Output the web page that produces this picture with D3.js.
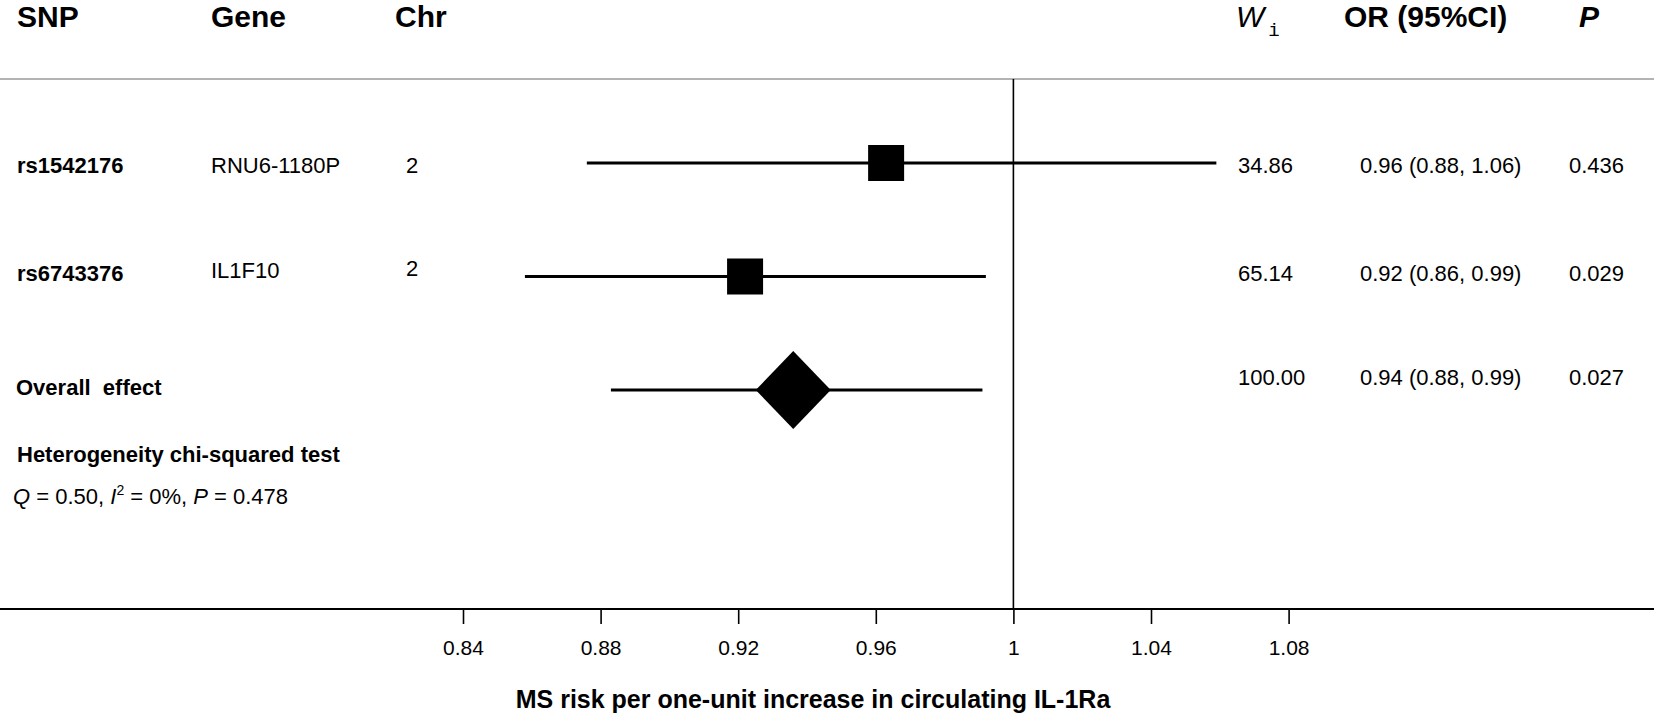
<!DOCTYPE html>
<html>
<head>
<meta charset="utf-8">
<script src="https://cdn.jsdelivr.net/npm/d3@7"></script>
<style>
  html, body { margin: 0; padding: 0; background: #fff; }
  svg { display: block; font-family: "Liberation Sans", Arial, sans-serif; }
</style>
</head>
<body>
<svg id="chart"></svg>
<script>
// study rows
const snps    = ["rs1542176", "rs6743376"];
const genes   = ["RNU6-1180P", "IL1F10"];
const chrs    = ["2", "2"];
const orEst   = [0.963, 0.922];
const orLow   = [0.876, 0.858];
const orHigh  = [1.059, 0.992];
const weights = ["34.86", "65.14"];
const orText  = ["0.96 (0.88, 1.06)", "0.92 (0.86, 0.99)"];
const pText   = ["0.436", "0.029"];

// pooled estimate
const overallLabel  = "Overall  effect";
const overallEst    = 0.936;
const overallLow    = 0.883;
const overallHigh   = 0.991;
const overallWeight = "100.00";
const overallOrText = "0.94 (0.88, 0.99)";
const overallP      = "0.027";

const xTicks = [0.84, 0.88, 0.92, 0.96, 1, 1.04, 1.08];
const xTitle = "MS risk per one-unit increase in circulating IL-1Ra";

let width  = 1654;
let height = 715;
let svg = d3.select("#chart").attr("width", width).attr("height", height);

let x = d3.scaleLinear().domain([0.84, 1.08]).range([463, 1288.6]);

let rowKeys = snps.concat(["overall"]);
let yMark = d3.scalePoint().domain(rowKeys).range([163, 390]);
let yText = d3.scaleOrdinal().domain(rowKeys).range([173, 281, 385]);

let axisY = 609;
let ruleY = 79;

// header
let head = svg.append("g").attr("font-size", 30).attr("font-weight", "bold");
head.append("text").attr("x", 17).attr("y", 27).text("SNP");
head.append("text").attr("x", 211).attr("y", 27).text("Gene");
head.append("text").attr("x", 395).attr("y", 27).text("Chr");
head.append("text").attr("x", 1344).attr("y", 27).text("OR (95%CI)");
head.append("text").attr("x", 1579).attr("y", 27).attr("font-style", "italic").text("P");

let wHead = svg.append("text").attr("x", 1236).attr("y", 27).attr("font-size", 30);
wHead.append("tspan").attr("font-style", "italic").text("W");
wHead.append("tspan").attr("font-family", "Liberation Mono, monospace")
  .attr("font-size", 19).attr("dy", 9).attr("dx", 4).text("i");

svg.append("line")
  .attr("x1", 0).attr("x2", width)
  .attr("y1", ruleY).attr("y2", ruleY)
  .attr("stroke", "#9a9a9a").attr("stroke-width", 1.5);

// null effect line
svg.append("line")
  .attr("x1", x(1)).attr("x2", x(1))
  .attr("y1", ruleY).attr("y2", axisY)
  .attr("stroke", "#000").attr("stroke-width", 1.6);

// left table text
let left = svg.append("g").attr("font-size", 22);
snps.forEach(function(s, i) {
  let ty = yText(s);
  left.append("text").attr("x", 17).attr("y", ty).attr("font-weight", "bold").text(s);
  left.append("text").attr("x", 211).attr("y", ty - (i ? 3 : 0)).text(genes[i]);
  left.append("text").attr("x", 406).attr("y", ty - (i ? 5 : 0)).text(chrs[i]);
});
left.append("text").attr("x", 16).attr("y", yText("overall") + 10)
  .attr("font-weight", "bold").attr("xml:space", "preserve").style("white-space", "pre")
  .text(overallLabel);
left.append("text").attr("x", 17).attr("y", 462).attr("font-weight", "bold")
  .text("Heterogeneity chi-squared test");

let het = left.append("text").attr("x", 13).attr("y", 504);
het.append("tspan").attr("font-style", "italic").text("Q");
het.append("tspan").text(" = 0.50, ");
het.append("tspan").attr("font-style", "italic").text("I");
het.append("tspan").attr("font-size", 14).attr("dy", -9).text("2");
het.append("tspan").attr("dy", 9).text(" = 0%, ");
het.append("tspan").attr("font-style", "italic").text("P");
het.append("tspan").text(" = 0.478");

// right table text
let right = svg.append("g").attr("font-size", 22);
let rightRows = [
  { key: snps[0], w: weights[0], o: orText[0], p: pText[0] },
  { key: snps[1], w: weights[1], o: orText[1], p: pText[1] },
  { key: "overall", w: overallWeight, o: overallOrText, p: overallP }
];
rightRows.forEach(function(r) {
  let ty = yText(r.key);
  right.append("text").attr("x", 1238).attr("y", ty).text(r.w);
  right.append("text").attr("x", 1360).attr("y", ty).text(r.o);
  right.append("text").attr("x", 1569).attr("y", ty).text(r.p);
});

// confidence intervals
let ciRows = snps.map(function(s, i) {
  return { key: s, lo: orLow[i], hi: orHigh[i], est: orEst[i] };
});
ciRows.push({ key: "overall", lo: overallLow, hi: overallHigh, est: overallEst });

svg.append("g").selectAll("line")
  .data(ciRows)
  .join("line")
  .attr("x1", d => x(d.lo)).attr("x2", d => x(d.hi))
  .attr("y1", d => yMark(d.key)).attr("y2", d => yMark(d.key))
  .attr("stroke", "#000").attr("stroke-width", 3);

let boxSize = 36;
svg.append("g").selectAll("rect")
  .data(ciRows.slice(0, snps.length))
  .join("rect")
  .attr("x", d => x(d.est) - boxSize / 2)
  .attr("y", d => yMark(d.key) - boxSize / 2)
  .attr("width", boxSize).attr("height", boxSize)
  .attr("fill", "#000");

let ov = ciRows[ciRows.length - 1];
let cx = x(ov.est), cy = yMark(ov.key);
svg.append("path")
  .attr("d", "M" + (cx - 37.5) + "," + cy + "L" + cx + "," + (cy - 39) +
             "L" + (cx + 37.5) + "," + cy + "L" + cx + "," + (cy + 39) + "Z")
  .attr("fill", "#000");

// x axis
svg.append("line")
  .attr("x1", 0).attr("x2", width)
  .attr("y1", axisY).attr("y2", axisY)
  .attr("stroke", "#000").attr("stroke-width", 2);

let ax = svg.append("g")
  .attr("transform", "translate(0," + axisY + ")")
  .call(d3.axisBottom(x).tickValues(xTicks).tickSize(15).tickPadding(16)
        .tickFormat(d => String(d)));
ax.select(".domain").remove();
ax.selectAll(".tick line").attr("stroke", "#000").attr("stroke-width", 1.6);
ax.selectAll(".tick text")
  .attr("font-size", 21)
  .attr("font-family", "Liberation Sans, Arial, sans-serif")
  .attr("fill", "#000");

svg.append("text")
  .attr("x", 813).attr("y", 708)
  .attr("text-anchor", "middle")
  .attr("font-size", 25).attr("font-weight", "bold")
  .text(xTitle);
</script>
</body>
</html>
